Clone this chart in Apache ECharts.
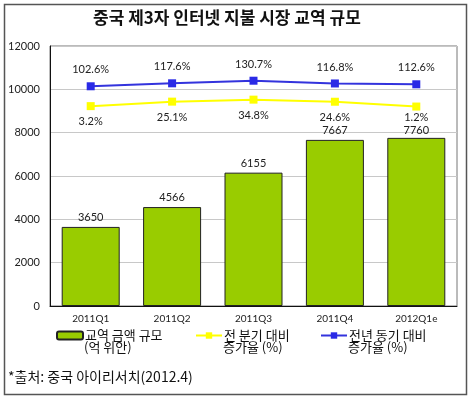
<!DOCTYPE html>
<html>
<head>
<meta charset="utf-8">
<script src="https://cdn.jsdelivr.net/npm/echarts@6/dist/echarts.min.js"></script>
<style>
html, body { margin: 0; padding: 0; background: #fff; }
#main { width: 473px; height: 398px; }
</style>
</head>
<body>
<div id="main"></div>
<script>
var categories = ['2011Q1', '2011Q2', '2011Q3', '2011Q4', '2012Q1e'];
var volume = [3650, 4566, 6155, 7667, 7760];          // 교역 금액 규모 (억 위안)
var qoqGrowth = [3.2, 25.1, 34.8, 24.6, 1.2];         // 전 분기 대비 증가율 (%)
var yoyGrowth = [102.6, 117.6, 130.7, 116.8, 112.6];  // 전년 동기 대비 증가율 (%)

var names = ['교역 금액 규모', '전 분기 대비', '전년 동기 대비'];
var subNames = ['(억 위안)', '증가율 (%)', '증가율 (%)'];

var font = '"Noto Sans CJK KR", sans-serif';
var numFont = 'Lato, "DejaVu Sans", sans-serif';

var myChart = echarts.init(document.getElementById('main'));

var legendLeft = [56, 195, 320];

function legendAt(i) {
	return {
		data: [names[i]],
		left: legendLeft[i],
		top: 329,
		itemWidth: 26,
		itemHeight: 8,
		itemGap: 0,
		padding: 0,
		selectedMode: false,
		textStyle: { fontFamily: font, fontSize: 13, color: '#111', padding: [0, 0, 0, -3] }
	};
}

function subLabel(i) {
	return {
		type: 'text',
		left: legendLeft[i] + 28,
		top: 341,
		style: { text: subNames[i], font: '13px "Noto Sans CJK KR", sans-serif', fill: '#111' }
	};
}

var option = {
	animation: false,
	title: {
		text: '중국 제3자 인터넷 지불 시장 교역 규모',
		left: 88,
		top: 4,
		textStyle: { fontFamily: font, fontSize: 17, fontWeight: 'bold', color: '#111' }
	},
	legend: [legendAt(0), legendAt(1), legendAt(2)],
	grid: {
		left: 50,
		right: 16,
		top: 46,
		bottom: 92,
		show: true,
		borderColor: '#777',
		borderWidth: 1
	},
	xAxis: {
		type: 'category',
		data: categories,
		axisLine: { lineStyle: { color: '#111' } },
		axisTick: { show: false },
		axisLabel: { fontFamily: numFont, fontSize: 10, color: '#222', margin: 8 }
	},
	yAxis: [{
		type: 'value',
		min: 0,
		max: 12000,
		interval: 2000,
		axisLine: { show: true, lineStyle: { color: '#111' } },
		axisTick: { show: false },
		axisLabel: {
			fontFamily: numFont, fontSize: 11, color: '#222', margin: 10,
			formatter: function (v) { return String(v); }
		},
		splitLine: { lineStyle: { color: '#c8c8c8' } }
	}, {
		type: 'value', show: false, min: -970, max: 296, splitLine: { show: false }
	}, {
		type: 'value', show: false, min: -1007, max: 306, splitLine: { show: false }
	}],
	series: [{
		name: names[0],
		type: 'bar',
		data: volume,
		barWidth: 58,
		itemStyle: { color: '#99cc00', borderColor: '#222', borderWidth: 1 },
		label: {
			show: true, position: 'top', distance: 4,
			fontFamily: numFont, fontSize: 11, color: '#222'
		},
		labelLayout: function (p) {
			return p.dataIndex === 4 ? { dy: 2 } : {};
		}
	}, {
		name: names[1],
		type: 'line',
		yAxisIndex: 1,
		data: qoqGrowth,
		symbol: 'rect',
		symbolSize: 8,
		lineStyle: { color: '#ffff00', width: 2 },
		itemStyle: { color: '#ffff00' },
		label: {
			show: true, position: 'bottom', distance: 6,
			fontFamily: numFont, fontSize: 11, color: '#222',
			formatter: function (p) { return p.value + '%'; }
		},
		labelLayout: function (p) {
			return p.dataIndex === 4 ? { dy: -5 } : {};
		}
	}, {
		name: names[2],
		type: 'line',
		yAxisIndex: 2,
		data: yoyGrowth,
		symbol: 'rect',
		symbolSize: 8,
		lineStyle: { color: '#3333dd', width: 2 },
		itemStyle: { color: '#2a2ae6' },
		label: {
			show: true, position: 'top', distance: 7,
			fontFamily: numFont, fontSize: 11, color: '#222',
			formatter: function (p) { return p.value + '%'; }
		}
	}],
	graphic: [{
		type: 'rect',
		shape: { x: 4.5, y: 4.5, width: 462, height: 390 },
		style: { fill: 'none', stroke: '#555', lineWidth: 1.5 },
		silent: true
	}, subLabel(0), subLabel(1), subLabel(2), {
		type: 'text',
		left: 8,
		top: 370,
		style: {
			text: '*출처: 중국 아이리서치(2012.4)',
			font: '14px "Noto Sans CJK KR", sans-serif',
			fill: '#111'
		}
	}]
};

myChart.setOption(option);
</script>
</body>
</html>
